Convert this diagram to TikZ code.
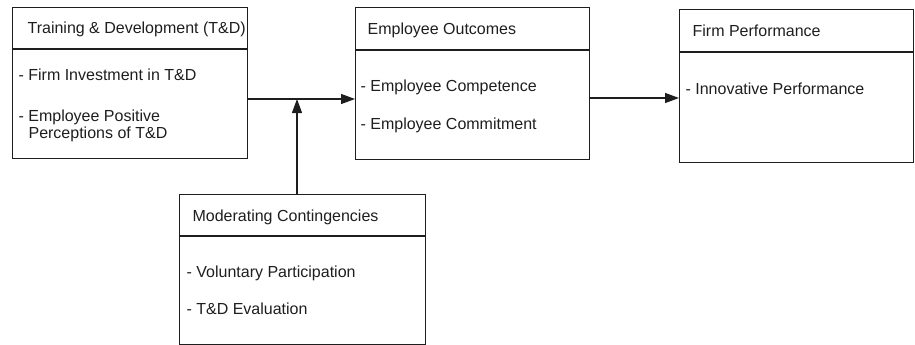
\documentclass[tikz,border=0pt]{standalone}
\usepackage{fontspec}
\setmainfont{Liberation Sans}
\usetikzlibrary{arrows.meta}
\definecolor{ink}{RGB}{30,30,30}
\begin{document}
\begin{tikzpicture}[x=1pt,y=-1pt,
  line width=1.2pt, draw=ink,
  panel/.style={draw=ink, fill=none, rectangle, inner sep=0pt, anchor=north west},
  label/.style={anchor=base west, inner sep=0pt, text=ink, font=\fontsize{16}{18}\selectfont},
  link/.style={-{Triangle[length=14pt,width=10pt]}, draw=ink, line width=1.2pt}]
\useasboundingbox (0,0) rectangle (915,345);

% --- boxes (outline + divider under the heading) ---
\node[panel, minimum width=235pt, minimum height=151pt] (td) at (12,7) {};
\draw (12,49) -- (247,49);
\node[panel, minimum width=234pt, minimum height=152pt] (eo) at (355,7) {};
\draw (355,50) -- (589,50);
\node[panel, minimum width=234pt, minimum height=153pt] (fp) at (679,9) {};
\draw (679,52) -- (913,52);
\node[panel, minimum width=246pt, minimum height=150pt] (mc) at (179,194) {};
\draw (179,236) -- (425,236);

% --- texts ---
\node[label] (td-h)  at (27,34)  {Training \& Development (T\&D)};
\node[label] (td-1)  at (18,81)  {- Firm Investment in T\&D};
\node[label] (td-2)  at (18,121) {- Employee Positive};
\node[label] (td-2b) at (28,138.5) {Perceptions of T\&D};

\node[label] (eo-h) at (367,35)  {Employee Outcomes};
\node[label] (eo-1) at (360,91)  {- Employee Competence};
\node[label] (eo-2) at (360,129) {- Employee Commitment};

\node[label] (fp-h) at (692,37) {Firm Performance};
\node[label] (fp-1) at (685,94) {- Innovative Performance};

\node[label] (mc-h) at (192,221) {Moderating Contingencies};
\node[label] (mc-1) at (186,277) {- Voluntary Participation};
\node[label] (mc-2) at (186,314) {- T\&D Evaluation};

% --- connectors ---
\coordinate (r1) at (0,99);
\coordinate (r2) at (0,98);
\coordinate (join) at (297,99);
\draw[link] (td.east |- r1) -- (eo.west |- r1);
\draw[link] (eo.east |- r2) -- (fp.west |- r2);
\draw[link] (mc.north -| join) -- (join);
\end{tikzpicture}
\end{document}
